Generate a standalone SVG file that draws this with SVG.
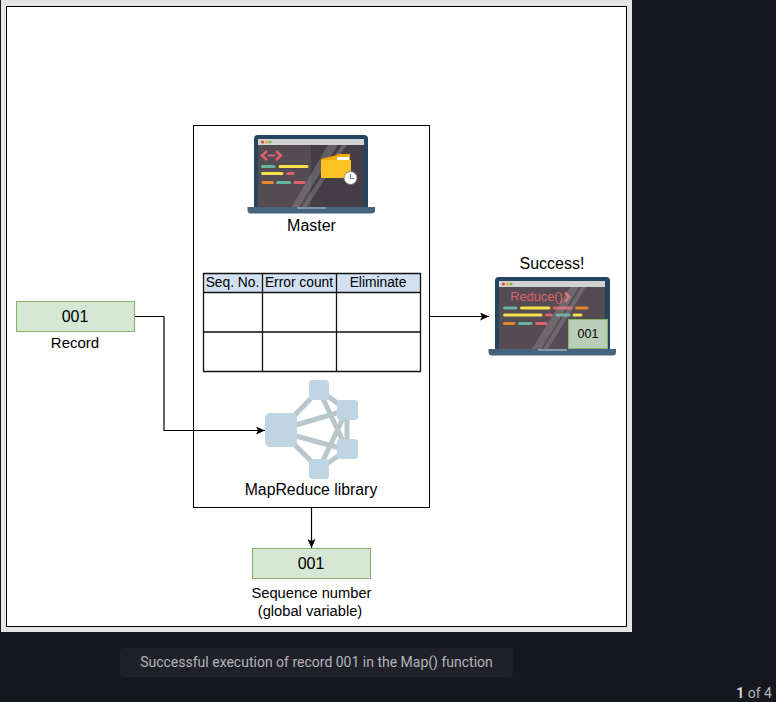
<svg xmlns="http://www.w3.org/2000/svg" width="776" height="702" viewBox="0 0 776 702">
<style>
text{font-family:"Liberation Sans",Arial,sans-serif;font-size:14.7px;fill:#000;text-anchor:middle}
.g{fill:#d5e8d4;stroke:#82b366;stroke-width:1}
.c{fill:none;stroke:#000;stroke-width:1.2}
.tb{fill:none;stroke:#111;stroke-width:1.3}
.e{stroke:#b9c6cc;stroke-width:5;fill:none}
.n{fill:#bfd5e3}
.s{fill:#a9a5a9;opacity:.32}
</style>
<defs>
<marker id="a" markerWidth="9" markerHeight="8" refX="9" refY="4" orient="auto" markerUnits="userSpaceOnUse"><path d="M0 0L9 4L0 8L2 4Z" fill="#000"/></marker>
</defs>
<rect width="776" height="702" fill="#16171f"/>
<rect x="1" y="0" width="631" height="632" fill="#e6e6e6"/>
<rect x="6.500" y="6.500" width="620" height="620" fill="#fff" stroke="#000" stroke-width="1"/>

<g id="connectors">
<path class="c" d="M134 316.500H164V430.500H265" marker-end="url(#a)"/>
<path class="c" d="M430 316.500H489" marker-end="url(#a)"/>
<path class="c" d="M311.500 507V548" marker-end="url(#a)"/>
</g>

<g id="master-box"><rect x="193.500" y="125.500" width="236" height="382" fill="none" stroke="#000" stroke-width="1"/></g>

<g id="master">
<path d="M254 139a4 4 0 0 1 4-4H364a4 4 0 0 1 4 4V208H254Z" fill="#24445f"/>
<rect x="258" y="139" width="106" height="6" fill="#d2d2d2"/>
<rect x="258" y="145" width="53" height="62" fill="#544b53"/>
<rect x="311" y="145" width="53" height="62" fill="#453e46"/>
<circle cx="262.500" cy="142" r="1.500" fill="#e2394a"/><circle cx="266.500" cy="142" r="1.500" fill="#f5a623"/><circle cx="270" cy="142" r="1.500" fill="#6cc24a"/>
<path d="M267 151l-5 4.500 5 4.500M276 151l5 4.500-5 4.500" fill="none" stroke="#e0626c" stroke-width="2.400"/><path d="M268 155.500H275" stroke="#e0626c" stroke-width="2"/>
<g stroke-width="3" stroke-linecap="round">
<path d="M262.500 166.500H274" stroke="#66b59f"/><path d="M280 166.500H307" stroke="#f5df4d"/>
<path d="M262.500 173.500H282" stroke="#f5df4d"/><path d="M288 173.500H293" stroke="#e0626c"/>
<path d="M263 182.500H272.500" stroke="#e08a2c"/><path d="M277.500 182.500H289.500" stroke="#66b59f"/><path d="M295 182.500H304" stroke="#e0626c"/>
</g>
<path class="s" d="M291.700 207L328 145H337.700L299 207Z M301.700 207L341.700 145H346.700L306.700 207Z"/>
<path d="M337 155a1 1 0 0 1 1-1H350V178H321V159Z" fill="#f2a900"/>
<rect x="337" y="157" width="12" height="3" fill="#fff"/>
<path d="M321 160H351V178H321Z" fill="#ffc222"/>
<circle cx="350.500" cy="178" r="6.500" fill="#fff" stroke="#777" stroke-width=".8"/><path d="M350.500 174V178.500H354" fill="none" stroke="#555" stroke-width=".8"/>
<path d="M247.500 207H375V210a3.500 3.500 0 0 1-3.500 3.500H251a3.500 3.500 0 0 1-3.500-3.500Z" fill="#43637f"/>
<rect x="297" y="207" width="29" height="2" fill="#7f98ad"/>
<text x="311.500" y="230.500" style="font-size:16px">Master</text>
</g>

<g id="table">
<rect x="203.500" y="273.500" width="217" height="19" fill="#d1e0f3"/>
<path class="tb" d="M203.500 273.500H420.500V371.500H203.500ZM203.500 292.500H420.500M203.500 332H420.500M262.500 273.500V371.500M336.500 273.500V371.500"/>
<text x="232.500" y="287" style="font-size:13.800px">Seq. No.</text>
<text x="299" y="287" style="font-size:13.800px">Error count</text>
<text x="378" y="287" style="font-size:13.800px">Eliminate</text>
</g>

<g id="mapreduce">
<g class="e"><path d="M290 420L319 390M290 440L319 469M296 425L347 410M296 436L347 450M319 390L347 410M319 390L347 450M319 469L347 410M319 469L347 450M347 410V450"/></g>
<rect class="n" x="265" y="413" width="32" height="34" rx="5"/>
<rect class="n" x="309" y="380" width="20" height="20" rx="3.500"/>
<rect class="n" x="337" y="400" width="21" height="20" rx="3.500"/>
<rect class="n" x="337" y="439" width="21" height="20" rx="3.500"/>
<rect class="n" x="309" y="459" width="20" height="20" rx="3.500"/>
<text x="311" y="494.500" style="font-size:15.800px">MapReduce library</text>
</g>

<g id="record"><rect class="g" x="16.500" y="301.500" width="118" height="30"/><text x="75" y="321.500" style="font-size:16px">001</text><text x="75" y="347.500" style="font-size:15px">Record</text></g>

<g id="sequence"><rect class="g" x="252.500" y="548.500" width="118" height="30"/><text x="311" y="568.500" style="font-size:16px">001</text><text x="311.500" y="597.500">Sequence number</text><text x="310" y="615.500">(global variable)</text></g>

<g id="success">
<text x="552" y="268.500" style="font-size:16px">Success!</text>
<path d="M495 281a4 4 0 0 1 4-4H606a4 4 0 0 1 4 4V350H495Z" fill="#24445f"/>
<rect x="499" y="281" width="106" height="6" fill="#d2d2d2"/>
<rect x="499" y="287" width="106" height="62" fill="#544b53"/>
<circle cx="503.500" cy="284" r="1.500" fill="#e2394a"/><circle cx="507.500" cy="284" r="1.500" fill="#f5a623"/><circle cx="511" cy="284" r="1.500" fill="#6cc24a"/>
<text x="536.500" y="301" style="font-size:12.800px;fill:#e0626c">Reduce()</text>
<path d="M565 292.500l4 4.500-4 4.500" fill="none" stroke="#e0626c" stroke-width="2.800"/>
<g stroke-width="3" stroke-linecap="round">
<path d="M504.500 308H516" stroke="#66b59f"/><path d="M521.500 308H549" stroke="#f5df4d"/><path d="M554 308H571" stroke="#e0626c"/><path d="M576.500 308H587" stroke="#e08a2c"/>
<path d="M504.500 315H541" stroke="#f5df4d"/><path d="M546.500 315H551" stroke="#e0626c"/><path d="M557 315H569" stroke="#66b59f"/><path d="M574 315H581" stroke="#f5df4d"/>
<path d="M504.500 323.500H514" stroke="#e08a2c"/><path d="M519.500 323.500H531" stroke="#66b59f"/><path d="M536.500 323.500H546" stroke="#e0626c"/>
</g>
<path class="s" d="M532 349L570 287H579L541 349Z M543 349L581 287H586L548 349Z"/>
<path d="M488.500 349H616V352a3.500 3.500 0 0 1-3.500 3.500H492a3.500 3.500 0 0 1-3.500-3.500Z" fill="#43637f"/>
<rect x="538" y="349" width="29" height="2" fill="#7f98ad"/>
<rect x="568.500" y="319.500" width="39" height="29" fill="#bbcdb9" stroke="#82b366" stroke-width="1"/>
<text x="588" y="338" style="font-size:12.500px">001</text>
</g>

<g id="caption">
<rect x="120" y="648" width="393" height="29" rx="4" fill="#1f2029"/>
<text x="316.500" y="667" style="font-family:Roboto,'Noto Sans',sans-serif;font-size:14px;fill:#b4b6bb">Successful execution of record 001 in the Map() function</text>
<text x="754" y="698" style="font-family:Roboto,'Noto Sans',sans-serif;font-size:14px;fill:#b4b6bb"><tspan font-weight="700" style="fill:#d6d6d8">1</tspan> of 4</text>
</g>
</svg>
